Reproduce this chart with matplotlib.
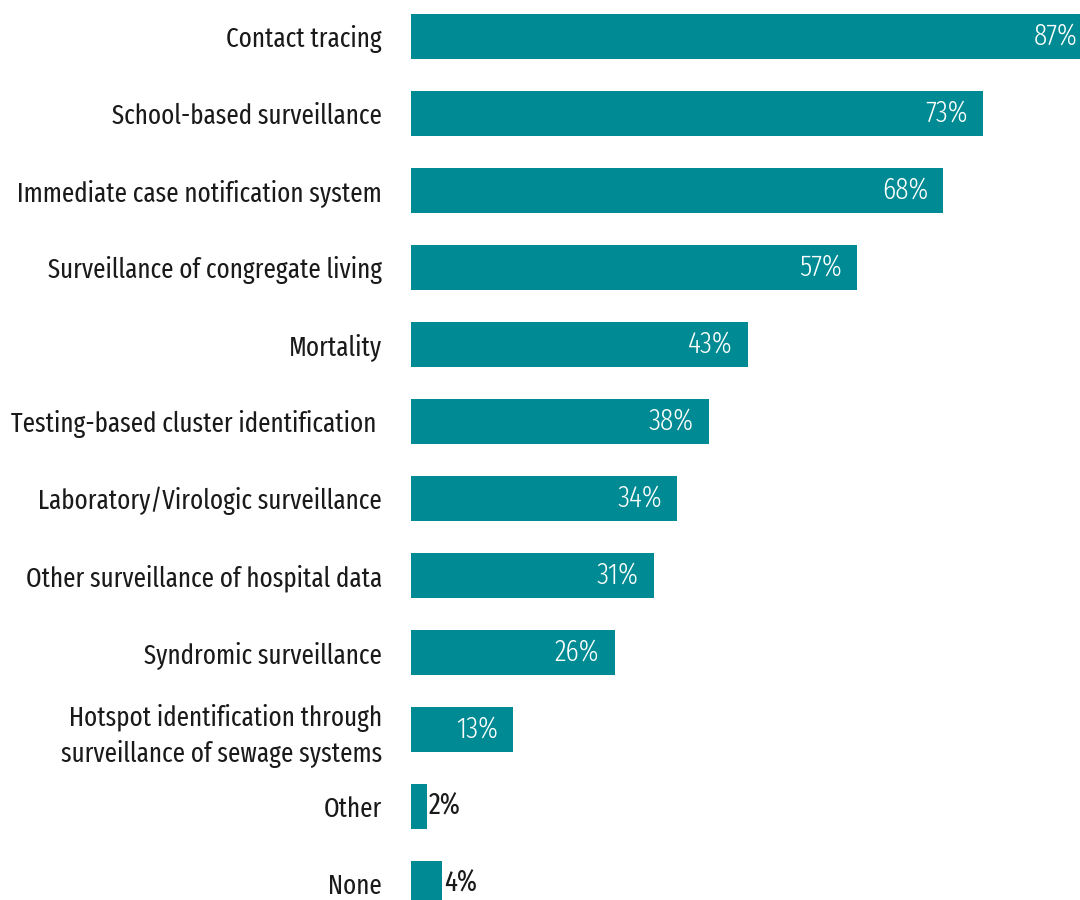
import os
import matplotlib
matplotlib.use("Agg")
import matplotlib.pyplot as plt
from matplotlib.font_manager import FontProperties

categories = [
    "Contact tracing",
    "School-based surveillance",
    "Immediate case notification system",
    "Surveillance of congregate living",
    "Mortality",
    "Testing-based cluster identification ",
    "Laboratory/Virologic surveillance",
    "Other surveillance of hospital data",
    "Syndromic surveillance",
    "Hotspot identification through\nsurveillance of sewage systems",
    "Other",
    "None",
]
values = [87, 73, 68, 57, 43, 38, 34, 31, 26, 13, 2, 4]

bar_color = "#008b94"
text_color = "#1a1a1a"

# condensed faces, similar to the original's Myriad Condensed
font_dir = "/usr/share/fonts/truetype/google-fonts/"
font_path = font_dir + "FiraSansExtraCondensed-Regular.ttf"
light_path = font_dir + "FiraSansExtraCondensed-Light.ttf"
if not os.path.exists(font_path):
    font_path = "/usr/share/fonts/truetype/dejavu/DejaVuSansCondensed.ttf"
if not os.path.exists(light_path):
    light_path = font_path
fp = FontProperties(fname=font_path, size=19.5)
fp_in = FontProperties(fname=light_path, size=21.5)   # white labels inside bars
fp_out = FontProperties(fname=font_path, size=21)     # dark labels after short bars

fig = plt.figure(figsize=(10.8, 9), dpi=100)
ax = fig.add_axes([411 / 1080, 0, 669 / 1080, 1])

px_per_unit = 7.83
ax.set_xlim(0, 669 / px_per_unit)
ax.set_ylim((900 - 36) / 77, -36 / 77)

y = list(range(len(categories)))
ax.barh(y, values, height=45 / 77, color=bar_color)

for yi, v in zip(y, values):
    if v >= 10:
        ax.annotate(f"{v}%", (v, yi), xytext=(-15, 0), textcoords="offset pixels",
                    ha="right", va="center", color="white", fontproperties=fp_in,
                    annotation_clip=False)
    else:
        ax.annotate(f"{v}%", (v, yi), xytext=(2, 0), textcoords="offset pixels",
                    ha="left", va="center", color=text_color, fontproperties=fp_out,
                    annotation_clip=False)

ax.set_yticks(y)
ax.set_yticklabels(categories, color=text_color, linespacing=1.35)
for lbl in ax.get_yticklabels():
    lbl.set_fontproperties(fp)
ax.tick_params(axis="y", length=0, pad=29 * 72 / 100)
ax.set_xticks([])
for s in ax.spines.values():
    s.set_visible(False)

fig.savefig("out.png", dpi=100)
